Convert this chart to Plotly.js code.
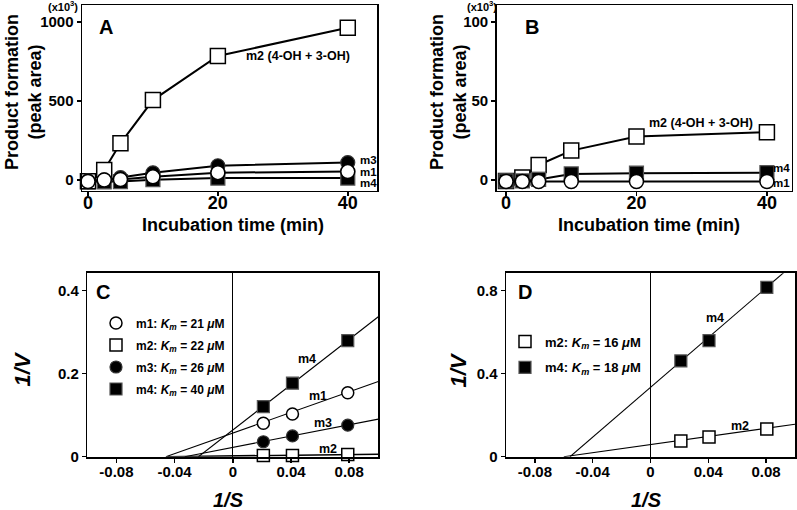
<!DOCTYPE html>
<html><head><meta charset="utf-8">
<script src="https://cdn.plot.ly/plotly-3.0.1.min.js"></script>
<style>html,body{margin:0;padding:0;background:#fff;}#chart{width:797px;height:510px;}</style>
</head><body><div id="chart"></div>
<script>
// ---- Panels A & B: product formation vs incubation time ----
const timeMin = [0, 2.5, 5, 10, 20, 40];
const aM1 = [-10, 0, 3, 20, 46, 53];
const aM2 = [-8, 63, 232, 506, 785, 964];
const aM3 = [-6, 0, 15, 45, 90, 110];
const aM4 = [-12, -12, -10, 2, 12, 12];
const bM1 = [-1, -1, -1, -1, -1, -1];
const bM2 = [-0.6, 1.5, 9.5, 18.6, 27.5, 30.2];
const bM4 = [-0.6, -0.6, 0.3, 3.8, 4.3, 4.6];
const abTicksA = [0, 500, 1000];
const abTicksB = [0, 50, 100];
const timeTicks = [0, 20, 40];

// ---- Panels C & D: Lineweaver-Burk ----
const invS_C = [0.021, 0.041, 0.079];
const cM1 = [0.0805, 0.103, 0.154];
const cM2 = [0.003, 0.003, 0.005];
const cM3 = [0.036, 0.050, 0.076];
const cM4 = [0.1205, 0.177, 0.2795];
const cFitM1X = [-0.046, 0.1], cFitM1Y = [0, 0.181];
const cFitM2X = [-0.045, 0.1], cFitM2Y = [0, 0.006];
const cFitM3X = [-0.033, 0.1], cFitM3Y = [0, 0.0905];
const cFitM4X = [-0.0236, 0.1], cFitM4Y = [0, 0.337];
const invS_D = [0.021, 0.0405, 0.0805];
const dM2 = [0.0757, 0.095, 0.133];
const dM4 = [0.461, 0.559, 0.815];
const dFitM2X = [-0.060, 0.1], dFitM2Y = [0, 0.156];
const dFitM4X = [-0.0557, 0.1], dFitM4Y = [0, 0.933];
const invSTicks = [-0.08, -0.04, 0, 0.04, 0.08];
const invSTickText = ['-0.08', '-0.04', '0', '0.04', '0.08'];
const cTicks = [0, 0.2, 0.4];
const dTicks = [0, 0.4, 0.8];

const legC = ['m1: <i>K<sub>m</sub></i> = 21 <i>μ</i>M', 'm2: <i>K<sub>m</sub></i> = 22 <i>μ</i>M',
              'm3: <i>K<sub>m</sub></i> = 26 <i>μ</i>M', 'm4: <i>K<sub>m</sub></i> = 40 <i>μ</i>M'];
const legD = ['m2: <i>K<sub>m</sub></i> = 16 <i>μ</i>M', 'm4: <i>K<sub>m</sub></i> = 18 <i>μ</i>M'];

const FONT = 'Liberation Sans, Arial, Helvetica, sans-serif';
const W = 797, H = 510;
const openSq = {symbol: 'square', color: 'white', line: {color: 'black', width: 1.5}};
const fillSq = {symbol: 'square', color: 'black', line: {color: '#555', width: 1.2}};
const openCi = {symbol: 'circle', color: 'white', line: {color: 'black', width: 1.5}};
const fillCi = {symbol: 'circle', color: 'black', line: {color: '#333', width: 1.2}};

function tc(x, y, xa, ya, mk, size) {
  return {x: x, y: y, xaxis: xa, yaxis: ya, type: 'scatter', mode: 'lines+markers', cliponaxis: false,
    line: {color: 'black', width: 2}, marker: Object.assign({size: size}, mk), showlegend: false, hoverinfo: 'skip'};
}
function pts(x, y, xa, ya, mk, size, name, leg, grp) {
  return {x: x, y: y, xaxis: xa, yaxis: ya, type: 'scatter', mode: 'markers', cliponaxis: false,
    marker: Object.assign({size: size}, mk), name: name, showlegend: true, legend: leg, legendgroup: grp, hoverinfo: 'skip'};
}
function fit(x, y, xa, ya, w) {
  return {x: x, y: y, xaxis: xa, yaxis: ya, type: 'scatter', mode: 'lines',
    line: {color: 'black', width: w || 1.1}, showlegend: false, hoverinfo: 'skip'};
}

const data = [
  tc(timeMin, aM4, 'x', 'y', fillSq, 14),
  tc(timeMin, aM2, 'x', 'y', openSq, 15),
  tc(timeMin, aM3, 'x', 'y', fillCi, 14),
  tc(timeMin, aM1, 'x', 'y', openCi, 14),
  tc(timeMin, bM2, 'x2', 'y2', openSq, 15),
  tc(timeMin, bM4, 'x2', 'y2', fillSq, 14),
  tc(timeMin, bM1, 'x2', 'y2', openCi, 14),
  fit(cFitM1X, cFitM1Y, 'x3', 'y3'),
  fit(cFitM2X, cFitM2Y, 'x3', 'y3', 1.6),
  fit(cFitM3X, cFitM3Y, 'x3', 'y3'),
  fit(cFitM4X, cFitM4Y, 'x3', 'y3'),
  pts(invS_C, cM1, 'x3', 'y3', openCi, 12, legC[0], 'legend', 'g1'),
  pts(invS_C, cM2, 'x3', 'y3', openSq, 12, legC[1], 'legend', 'g2'),
  pts(invS_C, cM3, 'x3', 'y3', fillCi, 12, legC[2], 'legend', 'g3'),
  pts(invS_C, cM4, 'x3', 'y3', fillSq, 12, legC[3], 'legend', 'g4'),
  fit(dFitM2X, dFitM2Y, 'x4', 'y4'),
  fit(dFitM4X, dFitM4Y, 'x4', 'y4'),
  pts(invS_D, dM2, 'x4', 'y4', openSq, 12, legD[0], 'legend2', 'h1'),
  pts(invS_D, dM4, 'x4', 'y4', fillSq, 12, legD[1], 'legend2', 'h2')
];

function px(x) { return x / W; }
function py(y) { return 1 - y / H; }
const baseAxis = {showgrid: false, zeroline: false, showline: true, mirror: true, linecolor: 'black',
  linewidth: 1.5, ticks: 'outside', ticklen: 4, tickwidth: 1.5, tickcolor: 'black',
  tickfont: {family: FONT, size: 15, color: 'black', weight: 'bold'}, fixedrange: true};
function ax(o) { return Object.assign({}, baseAxis, o); }

function ann(text, x, y, size, extra) {
  return Object.assign({text: text, xref: 'paper', yref: 'paper', x: px(x), y: py(y),
    xanchor: 'center', yanchor: 'middle', showarrow: false,
    font: {family: FONT, size: size, color: 'black', weight: 'bold'}}, extra || {});
}

const layout = {
  width: W, height: H, margin: {l: 0, r: 0, t: 0, b: 0},
  paper_bgcolor: 'white', plot_bgcolor: 'white',
  font: {family: FONT, color: 'black', weight: 'bold'},
  xaxis: ax({domain: [px(82), px(377)], range: [-0.92, 44.5], tickvals: timeTicks, anchor: 'y',
    ticklabelstandoff: -9, tickfont: {family: FONT, size: 18, color: 'black', weight: 'bold'}}),
  yaxis: ax({domain: [py(190.7), py(5)], range: [-68, 1108], tickvals: abTicksA, anchor: 'x'}),
  xaxis2: ax({domain: [px(496.7), px(791.7)], range: [-1.43, 43.8], tickvals: timeTicks, anchor: 'y2',
    ticklabelstandoff: -9, tickfont: {family: FONT, size: 18, color: 'black', weight: 'bold'}}),
  yaxis2: ax({domain: [py(190.7), py(5)], range: [-6.8, 110.8], tickvals: abTicksB, anchor: 'x2'}),
  xaxis3: ax({domain: [px(87.3), px(378.3)], range: [-0.1, 0.1], tickvals: invSTicks, ticktext: invSTickText,
    ticklabelstandoff: -4, zeroline: true, zerolinecolor: 'black', zerolinewidth: 1, anchor: 'y3', linewidth: 2}),
  yaxis3: ax({domain: [py(456.7), py(273.3)], range: [0, 0.4417], tickvals: cTicks, anchor: 'x3'}),
  xaxis4: ax({domain: [px(506), px(795)], range: [-0.1, 0.1], tickvals: invSTicks, ticktext: invSTickText,
    ticklabelstandoff: -4, zeroline: true, zerolinecolor: 'black', zerolinewidth: 1, anchor: 'y4', linewidth: 2}),
  yaxis4: ax({domain: [py(456.7), py(273.3)], range: [0, 0.883], tickvals: dTicks, anchor: 'x4'}),
  legend: {x: px(96), y: py(308.5), xanchor: 'left', yanchor: 'top', bgcolor: 'rgba(0,0,0,0)',
    traceorder: 'grouped', tracegroupgap: 3, itemclick: false, itemdoubleclick: false,
    font: {family: FONT, size: 12, color: 'black', weight: 'bold'}},
  legend2: {x: px(505), y: py(326.5), xanchor: 'left', yanchor: 'top', bgcolor: 'rgba(0,0,0,0)',
    traceorder: 'grouped', tracegroupgap: 6, itemclick: false, itemdoubleclick: false,
    font: {family: FONT, size: 13, color: 'black', weight: 'bold'}},
  showlegend: true,
  annotations: [
    // Panel A
    ann('(x10<sup>3</sup>)', 62.5, 6, 11),
    ann('A', 105.5, 27, 20),
    ann('Product formation<br>(peak area)', 23, 92, 18, {textangle: -90}),
    ann('Incubation time (min)', 233, 225, 18),
    ann('m2 (4-OH + 3-OH)', 298, 56, 12.5),
    ann('m3', 358, 160, 11.5, {xanchor: 'left'}),
    ann('m1', 358, 171.7, 11.5, {xanchor: 'left'}),
    ann('m4', 358, 182.7, 11.5, {xanchor: 'left'}),
    // Panel B
    ann('(x10<sup>3</sup>)', 482, 6, 11),
    ann('B', 531.5, 27, 20),
    ann('Product formation<br>(peak area)', 448, 92, 18, {textangle: -90}),
    ann('Incubation time (min)', 649, 225, 18),
    ann('m2 (4-OH + 3-OH)', 700.5, 123, 12.5),
    ann('m4', 771, 168, 11.5, {xanchor: 'left'}),
    ann('m1', 771, 182.7, 11.5, {xanchor: 'left'}),
    // Panel C
    ann('C', 103.5, 291.5, 20),
    ann('<i>1/V</i>', 22, 369.5, 22, {textangle: -90}),
    ann('<i>1/S</i>', 228, 499.5, 20),
    ann('m4', 306.7, 359, 12.5),
    ann('m1', 318, 395.7, 12.5),
    ann('m3', 323, 423.3, 12.5),
    ann('m2', 328.3, 449, 12.5),
    // Panel D
    ann('D', 525, 291.5, 20),
    ann('<i>1/V</i>', 458, 369.5, 22, {textangle: -90}),
    ann('<i>1/S</i>', 646, 499.5, 20),
    ann('m4', 715, 318, 12.5),
    ann('m2', 740, 425.7, 12.5)
  ]
};

Plotly.newPlot('chart', data, layout, {staticPlot: true, displayModeBar: false});
</script>
</body></html>
